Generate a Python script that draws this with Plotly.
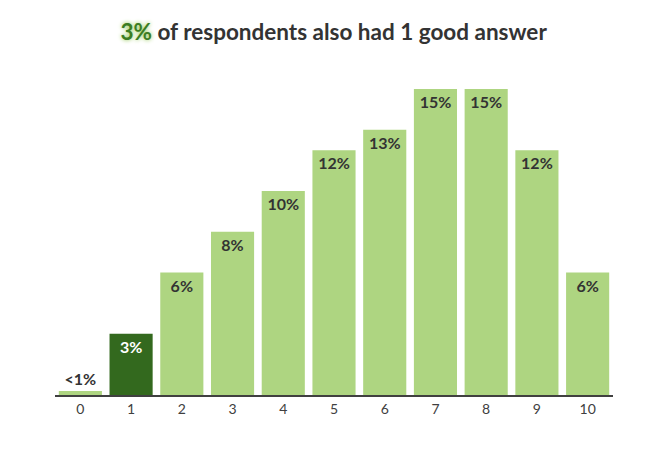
import plotly.graph_objects as go

categories = ["0", "1", "2", "3", "4", "5", "6", "7", "8", "9", "10"]
shares = [0.2, 3, 6, 8, 10, 12, 13, 15, 15, 12, 6]
labels = ["<1%", "3%", "6%", "8%", "10%", "12%", "13%", "15%", "15%", "12%", "6%"]
highlight = "1"

light = "#aed581"
dark = "#33691e"

colors = [dark if c == highlight else light for c in categories]
text_pos = ["outside" if v < 1 else "inside" for v in shares]
text_col = ["white" if c == highlight else "#333333" for c in categories]

fig = go.Figure()
fig.add_trace(go.Bar(
    x=categories, y=shares, marker_color=colors, marker_line_width=0,
    text=labels, textposition=text_pos, insidetextanchor="end",
    textfont=dict(family="Lato", size=16, color=text_col, weight="bold"),
    constraintext="none", cliponaxis=False, hoverinfo="skip",
))

# page body adds 8px offset, so margins are shifted to compensate
fig.update_layout(
    width=670, height=450,
    margin=dict(l=47, r=65, t=81, b=63),
    paper_bgcolor="white", plot_bgcolor="white",
    bargap=0.15, showlegend=False,
    title=dict(
        text="<span style='color:#3b7d23;text-shadow:0 0 4px #8bc34a'>3%</span> of respondents also had 1 good answer",
        x=0.486, xanchor="center", y=0.947, yanchor="middle",
        font=dict(family="Lato", size=22.5, color="#333333", weight="bold"),
    ),
    xaxis=dict(showline=True, linecolor="#404040", linewidth=2, ticks="",
               tickfont=dict(family="Lato", size=14, color="#404040"), fixedrange=True),
    yaxis=dict(range=[0, 15], visible=False, showgrid=False, fixedrange=True),
)

fig.write_html("out.html")
